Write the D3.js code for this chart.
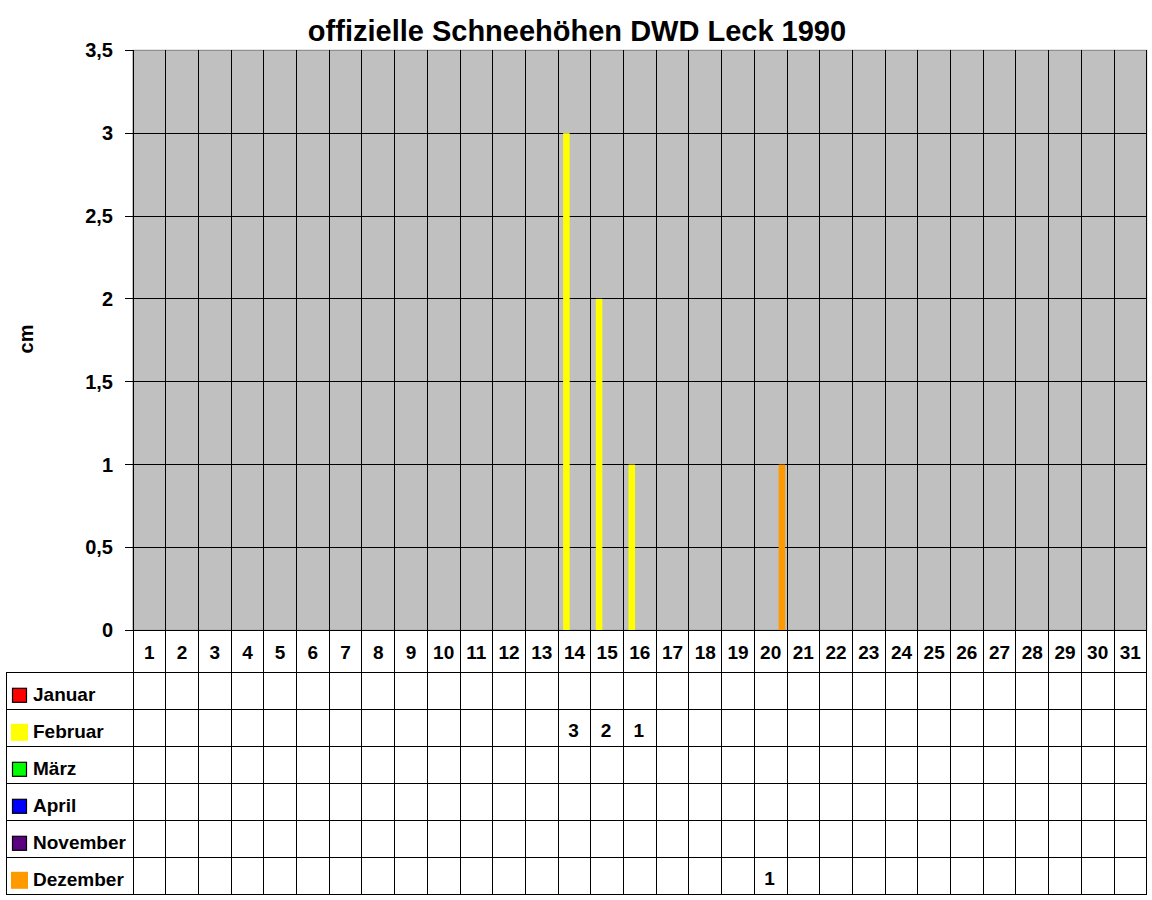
<!DOCTYPE html>
<html>
<head>
<meta charset="utf-8">
<script src="https://cdn.jsdelivr.net/npm/d3@7"></script>
<style>
  body { margin: 0; background: #fff; }
  text { font-family: "Liberation Sans", Arial, sans-serif; font-weight: bold; fill: #000; }
</style>
</head>
<body>
<div id="chart"></div>
<script>
// categories and series
var days = d3.range(1, 32);
var months = ['Januar', 'Februar', 'März', 'April', 'November', 'Dezember'];
var monthColors = ['#ff0000', '#ffff00', '#00ff00', '#0000ff', '#5a0080', '#ff9900'];
var keyBorder = [true, false, true, true, true, false];

// [day, cm] per month
var januar = [];
var februar = [[14, 3], [15, 2], [16, 1]];
var maerz = [];
var april = [];
var november = [];
var dezember = [[20, 1]];
var series = [januar, februar, maerz, april, november, dezember];

var yTicks = [0, 0.5, 1, 1.5, 2, 2.5, 3, 3.5];

var drawChart = function() {

	var width = 1152, height = 900;
	var pLeft = 133, pRight = 1146.7, pTop = 50.3, pBottom = 630.3;
	var tableLeft = 6.3, headH = 42, rowH = 37;

	var svg = d3.select('#chart').append('svg')
		.attr('width', width)
		.attr('height', height);

	var x = d3.scaleBand().domain(days).range([pLeft, pRight]);
	var y = d3.scaleLinear().domain([0, 3.5]).range([pBottom, pTop]);
	var bw = x.bandwidth();
	var xs = d3.scaleLinear().domain([0, months.length - 1]).range([0.006 * bw, 0.744 * bw]);
	var fmt = function(v) { return String(v).replace('.', ','); };

	// plot background
	svg.append('rect')
		.attr('x', pLeft).attr('y', pTop)
		.attr('width', pRight - pLeft).attr('height', pBottom - pTop)
		.attr('fill', '#c0c0c0')
		.attr('stroke', '#808080');

	// horizontal gridlines
	svg.append('g').selectAll('line')
		.data(yTicks.filter(function(d) { return d < 3.5; }))
		.enter().append('line')
		.attr('x1', pLeft).attr('x2', pRight)
		.attr('y1', function(d) { return y(d); })
		.attr('y2', function(d) { return y(d); })
		.attr('stroke', '#000')
		.attr('shape-rendering', 'crispEdges');

	// tick stubs
	svg.append('g').selectAll('line')
		.data(yTicks)
		.enter().append('line')
		.attr('x1', pLeft - 8).attr('x2', pLeft)
		.attr('y1', function(d) { return y(d); })
		.attr('y2', function(d) { return y(d); })
		.attr('stroke', '#000')
		.attr('shape-rendering', 'crispEdges');

	svg.append('g').selectAll('text')
		.data(yTicks)
		.enter().append('text')
		.attr('x', 113)
		.attr('y', function(d) { return y(d) + 7; })
		.attr('text-anchor', 'end')
		.style('font-size', '20px')
		.text(fmt);

	// vertical lines through plot and table
	var tableBottom = pBottom + headH + rowH * months.length;
	var bounds = days.map(function(d) { return x(d); }).concat([pRight]);
	svg.append('g').selectAll('line')
		.data(bounds)
		.enter().append('line')
		.attr('x1', function(d) { return d; })
		.attr('x2', function(d) { return d; })
		.attr('y1', pTop)
		.attr('y2', tableBottom)
		.attr('stroke', '#000')
		.attr('shape-rendering', 'crispEdges');

	// bars
	series.forEach(function(s, i) {
		svg.append('g').attr('class', 'bars').selectAll('rect')
			.data(s)
			.enter().append('rect')
			.attr('x', function(d) { return x(d[0]) + xs(i); })
			.attr('y', function(d) { return y(d[1]); })
			.attr('width', 0.2 * bw)
			.attr('height', function(d) { return y(0) - y(d[1]); })
			.attr('fill', monthColors[i]);
	});

	// x axis line
	svg.append('line')
		.attr('x1', pLeft).attr('x2', pRight)
		.attr('y1', pBottom).attr('y2', pBottom)
		.attr('stroke', '#000').attr('shape-rendering', 'crispEdges');

	// day labels
	svg.append('g').selectAll('text')
		.data(days)
		.enter().append('text')
		.attr('x', function(d) { return x(d) + bw / 2; })
		.attr('y', pBottom + 29)
		.attr('text-anchor', 'middle')
		.style('font-size', '19px')
		.text(function(d) { return d; });

	// table rows
	var rowTop = function(i) { return pBottom + headH + i * rowH; };
	svg.append('g').selectAll('line')
		.data(d3.range(months.length + 1))
		.enter().append('line')
		.attr('x1', tableLeft).attr('x2', pRight)
		.attr('y1', function(i) { return rowTop(i); })
		.attr('y2', function(i) { return rowTop(i); })
		.attr('stroke', '#000')
		.attr('shape-rendering', 'crispEdges');
	svg.append('line')
		.attr('x1', tableLeft).attr('x2', tableLeft)
		.attr('y1', rowTop(0)).attr('y2', tableBottom)
		.attr('stroke', '#000').attr('shape-rendering', 'crispEdges');

	var rows = svg.append('g').selectAll('g')
		.data(months)
		.enter().append('g')
		.attr('transform', function(d, i) { return 'translate(0,' + rowTop(i) + ')'; });

	rows.append('rect')
		.attr('x', function(d, i) { return keyBorder[i] ? 12.5 : 11; })
		.attr('y', function(d, i) { return keyBorder[i] ? 16 : 14.5; })
		.attr('width', function(d, i) { return keyBorder[i] ? 14 : 17; })
		.attr('height', function(d, i) { return keyBorder[i] ? 14 : 17; })
		.attr('fill', function(d, i) { return monthColors[i]; })
		.attr('stroke', function(d, i) { return keyBorder[i] ? '#000' : 'none'; })
		.attr('stroke-width', 1.2);

	rows.append('text')
		.attr('x', 33)
		.attr('y', 29)
		.style('font-size', '19px')
		.text(function(d) { return d; });

	rows.each(function(m, i) {
		d3.select(this).selectAll('text.val')
			.data(series[i])
			.enter().append('text')
			.attr('class', 'val')
			.attr('x', function(d) { return x(d[0]) + bw / 2 - 1; })
			.attr('y', 28)
			.attr('text-anchor', 'middle')
			.style('font-size', '19px')
			.text(function(d) { return fmt(d[1]); });
	});

	// title and axis label
	svg.append('text')
		.attr('x', 577).attr('y', 41)
		.attr('text-anchor', 'middle')
		.style('font-size', '29px')
		.text('offizielle Schneehöhen DWD Leck 1990');

	svg.append('text')
		.attr('transform', 'translate(33,339) rotate(-90)')
		.attr('text-anchor', 'middle')
		.style('font-size', '20px')
		.text('cm');
};

drawChart();
</script>
</body>
</html>
